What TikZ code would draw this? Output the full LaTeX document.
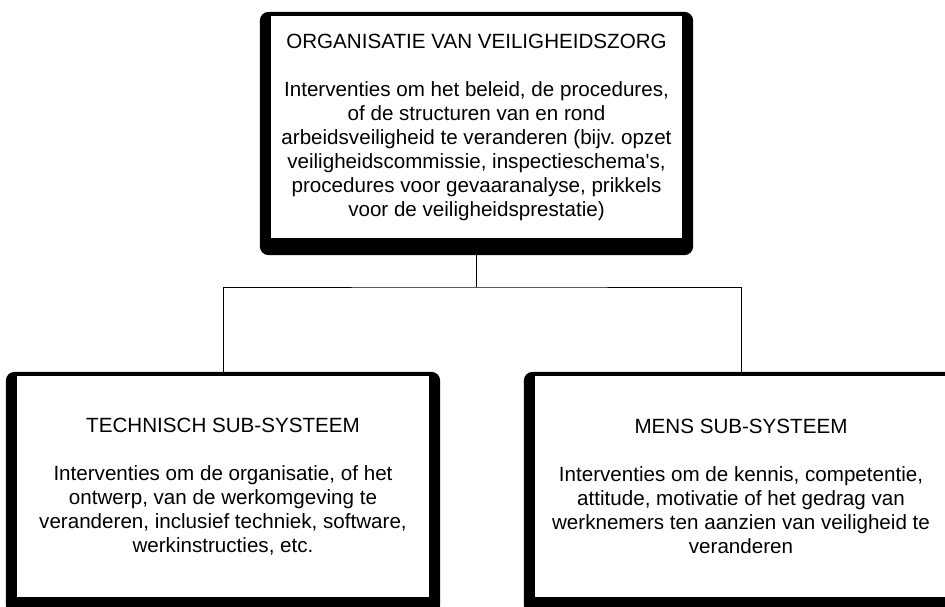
\documentclass[tikz,border=0pt]{standalone}
\usepackage{fontspec}
\setmainfont{Liberation Sans}
\usetikzlibrary{calc,backgrounds}
\tikzset{
  box/.style={fill=white,inner sep=0pt,minimum height=221pt,minimum width=412pt,
    align=center,font=\fontsize{20.6}{24}\selectfont\frenchspacing},
  frame/.style={fill=black,rounded corners=9pt}
}
\begin{document}
\begin{tikzpicture}[x=1pt,y=-1pt]
    \clip (0,0) rectangle (945,607);
    \node[box,minimum width=411pt,minimum height=222pt] at (476.5,127) (org) {ORGANISATIE VAN VEILIGHEIDSZORG\\[24pt]
        Interventies om het beleid, de procedures,\\ of de structuren van en rond\\
        arbeidsveiligheid te veranderen (bijv. opzet\\ veiligheidscommissie, inspectieschema\textquotesingle s,\\
        procedures voor gevaaranalyse, prikkels\\ voor de veiligheidsprestatie)};
    \node[box] at (223,486.5) (tech) {TECHNISCH SUB-SYSTEEM\\[24pt]
        Interventies om de organisatie, of het\\ ontwerp, van de werkomgeving te\\
        veranderen, inclusief techniek, software,\\ werkinstructies, etc.};
    \node[box] at (741,486.5) (mens) {MENS SUB-SYSTEEM\\[24pt]
        Interventies om de kennis, competentie,\\ attitude, motivatie of het gedrag van\\
        werknemers ten aanzien van veiligheid te\\ veranderen};
    \begin{scope}[on background layer]
    \fill[white] (0,0) rectangle (945,607);
    \foreach \b in {org,tech,mens}{
        \fill[frame] ($(\b.north west)+(-11,-4)$) rectangle ($(\b.south east)+(11,17)$);
    }
    \end{scope}
    \coordinate (split) at (476.5,287);
    \draw[line width=1pt] (org.south) -- (split);
    \draw[line width=1pt] (tech.north) |- (split) -| (mens.north);
\end{tikzpicture}
\end{document}
